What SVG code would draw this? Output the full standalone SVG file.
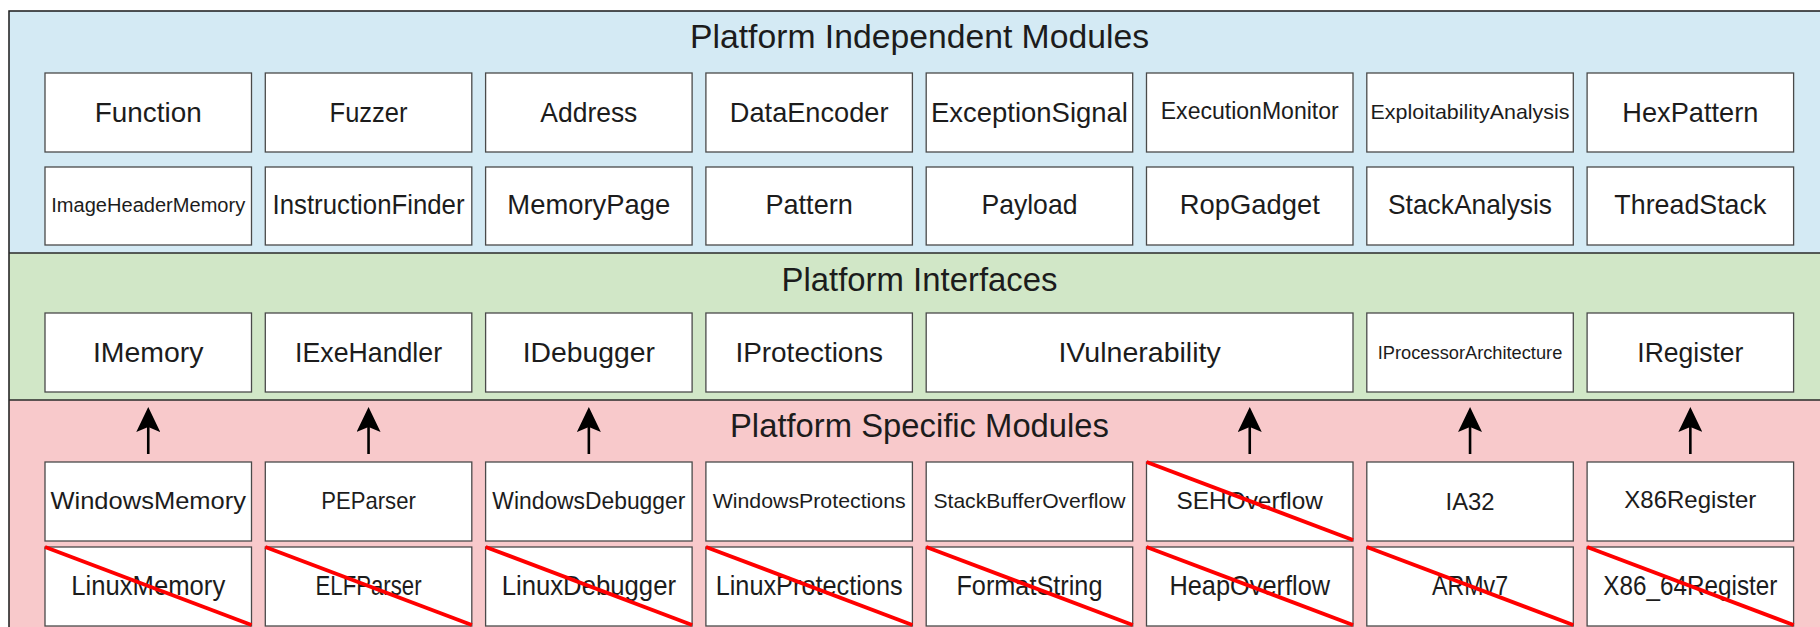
<svg xmlns="http://www.w3.org/2000/svg" width="1820" height="627" viewBox="0 0 1820 627">
  <defs>
    <style>
      .box { fill: #ffffff; stroke: #4a4a4a; stroke-width: 1.3; }
      .lbl { font-family: "Liberation Sans", Arial, sans-serif; fill: #1c1c1c; text-anchor: middle; }
      .title { font-size: 33px; }
      .s28 { font-size: 28px; }
      .s24 { font-size: 24px; }
      .s23 { font-size: 23px; }
      .s21 { font-size: 21px; }
      .s20 { font-size: 20px; }
      .s18 { font-size: 18px; }
      .strike { stroke: #ff0000; stroke-width: 4; fill: none; }
      .sep { stroke: #2a2a2a; stroke-width: 1.5; fill: none; }
      .arrow { stroke: #000000; stroke-width: 2.6; fill: none; marker-end: url(#head); }
    </style>
    <marker id="head" markerUnits="userSpaceOnUse" viewBox="0 0 25 24" markerWidth="25" markerHeight="24" refX="5" refY="12" orient="auto">
      <path d="M0,0 L25,12 L0,24 L5,12 Z" fill="#000000"/>
    </marker>
  </defs>

  <!-- layer bands -->
  <g id="bands">
    <rect x="9" y="11" width="1830" height="242" fill="#d4eaf4"/>
    <rect x="9" y="253" width="1830" height="147" fill="#d1e7c7"/>
    <rect x="9" y="400" width="1830" height="240" fill="#f8c9cb"/>
    <rect x="9" y="11" width="1830" height="640" fill="none" stroke="#1a1a1a" stroke-width="1.5"/>
    <line class="sep" x1="9" y1="253" x2="1839" y2="253"/>
    <line class="sep" x1="9" y1="400" x2="1839" y2="400"/>
    <text class="lbl title" x="919.5" y="48.3" textLength="459" lengthAdjust="spacingAndGlyphs">Platform Independent Modules</text>
    <text class="lbl title" x="919.5" y="290.7" textLength="276" lengthAdjust="spacingAndGlyphs">Platform Interfaces</text>
    <text class="lbl title" x="919.5" y="437.3" textLength="379" lengthAdjust="spacingAndGlyphs">Platform Specific Modules</text>
  </g>

  <!-- platform independent modules, row 1 -->
  <g id="function"><rect class="box" x="45" y="73" width="206.5" height="79"/><text class="lbl s28" x="148.25" y="121.7" textLength="107" lengthAdjust="spacingAndGlyphs">Function</text></g>
  <g id="fuzzer"><rect class="box" x="265.3" y="73" width="206.5" height="79"/><text class="lbl s28" x="368.55" y="121.7" textLength="78" lengthAdjust="spacingAndGlyphs">Fuzzer</text></g>
  <g id="address"><rect class="box" x="485.6" y="73" width="206.5" height="79"/><text class="lbl s28" x="588.85" y="121.7" textLength="97" lengthAdjust="spacingAndGlyphs">Address</text></g>
  <g id="dataencoder"><rect class="box" x="705.9" y="73" width="206.5" height="79"/><text class="lbl s28" x="809.15" y="121.7" textLength="158.6" lengthAdjust="spacingAndGlyphs">DataEncoder</text></g>
  <g id="exceptionsignal"><rect class="box" x="926.2" y="73" width="206.5" height="79"/><text class="lbl s28" x="1029.45" y="121.7" textLength="197" lengthAdjust="spacingAndGlyphs">ExceptionSignal</text></g>
  <g id="executionmonitor"><rect class="box" x="1146.5" y="73" width="206.5" height="79"/><text class="lbl s23" x="1249.75" y="118.6" textLength="178" lengthAdjust="spacingAndGlyphs">ExecutionMonitor</text></g>
  <g id="exploitabilityanalysis"><rect class="box" x="1366.8" y="73" width="206.5" height="79"/><text class="lbl s21" x="1470.05" y="118.5" textLength="199" lengthAdjust="spacingAndGlyphs">ExploitabilityAnalysis</text></g>
  <g id="hexpattern"><rect class="box" x="1587.1" y="73" width="206.5" height="79"/><text class="lbl s28" x="1690.35" y="121.7" textLength="136" lengthAdjust="spacingAndGlyphs">HexPattern</text></g>

  <!-- platform independent modules, row 2 -->
  <g id="imageheadermemory"><rect class="box" x="45" y="167" width="206.5" height="78"/><text class="lbl s20" x="148.25" y="212.3" textLength="194" lengthAdjust="spacingAndGlyphs">ImageHeaderMemory</text></g>
  <g id="instructionfinder"><rect class="box" x="265.3" y="167" width="206.5" height="78"/><text class="lbl s28" x="368.55" y="214" textLength="192" lengthAdjust="spacingAndGlyphs">InstructionFinder</text></g>
  <g id="memorypage"><rect class="box" x="485.6" y="167" width="206.5" height="78"/><text class="lbl s28" x="588.85" y="214" textLength="163" lengthAdjust="spacingAndGlyphs">MemoryPage</text></g>
  <g id="pattern"><rect class="box" x="705.9" y="167" width="206.5" height="78"/><text class="lbl s28" x="809.15" y="214" textLength="87.4" lengthAdjust="spacingAndGlyphs">Pattern</text></g>
  <g id="payload"><rect class="box" x="926.2" y="167" width="206.5" height="78"/><text class="lbl s28" x="1029.45" y="214" textLength="96" lengthAdjust="spacingAndGlyphs">Payload</text></g>
  <g id="ropgadget"><rect class="box" x="1146.5" y="167" width="206.5" height="78"/><text class="lbl s28" x="1249.75" y="214" textLength="140" lengthAdjust="spacingAndGlyphs">RopGadget</text></g>
  <g id="stackanalysis"><rect class="box" x="1366.8" y="167" width="206.5" height="78"/><text class="lbl s28" x="1470.05" y="214" textLength="164" lengthAdjust="spacingAndGlyphs">StackAnalysis</text></g>
  <g id="threadstack"><rect class="box" x="1587.1" y="167" width="206.5" height="78"/><text class="lbl s28" x="1690.35" y="214" textLength="152" lengthAdjust="spacingAndGlyphs">ThreadStack</text></g>

  <!-- platform interfaces -->
  <g id="imemory"><rect class="box" x="45" y="313" width="206.5" height="79"/><text class="lbl s28" x="148.25" y="361.7" textLength="110.6" lengthAdjust="spacingAndGlyphs">IMemory</text></g>
  <g id="iexehandler"><rect class="box" x="265.3" y="313" width="206.5" height="79"/><text class="lbl s28" x="368.55" y="361.7" textLength="147" lengthAdjust="spacingAndGlyphs">IExeHandler</text></g>
  <g id="idebugger"><rect class="box" x="485.6" y="313" width="206.5" height="79"/><text class="lbl s28" x="588.85" y="361.7" textLength="132.3" lengthAdjust="spacingAndGlyphs">IDebugger</text></g>
  <g id="iprotections"><rect class="box" x="705.9" y="313" width="206.5" height="79"/><text class="lbl s28" x="809.15" y="361.7" textLength="147.5" lengthAdjust="spacingAndGlyphs">IProtections</text></g>
  <g id="ivulnerability"><rect class="box" x="926.2" y="313" width="426.8" height="79"/><text class="lbl s28" x="1139.6" y="361.7" textLength="162.3" lengthAdjust="spacingAndGlyphs">IVulnerability</text></g>
  <g id="iprocessorarchitecture"><rect class="box" x="1366.8" y="313" width="206.5" height="79"/><text class="lbl s18" x="1470.05" y="359.3" textLength="184.5" lengthAdjust="spacingAndGlyphs">IProcessorArchitecture</text></g>
  <g id="iregister"><rect class="box" x="1587.1" y="313" width="206.5" height="79"/><text class="lbl s28" x="1690.35" y="361.7" textLength="106" lengthAdjust="spacingAndGlyphs">IRegister</text></g>

  <!-- platform specific modules, windows / x86 row -->
  <g id="windowsmemory"><rect class="box" x="45" y="462" width="206.5" height="79"/><text class="lbl s24" x="148.25" y="509" textLength="195.6" lengthAdjust="spacingAndGlyphs">WindowsMemory</text></g>
  <g id="peparser"><rect class="box" x="265.3" y="462" width="206.5" height="79"/><text class="lbl s24" x="368.55" y="509" textLength="94.5" lengthAdjust="spacingAndGlyphs">PEParser</text></g>
  <g id="windowsdebugger"><rect class="box" x="485.6" y="462" width="206.5" height="79"/><text class="lbl s23" x="588.85" y="509" textLength="193" lengthAdjust="spacingAndGlyphs">WindowsDebugger</text></g>
  <g id="windowsprotections"><rect class="box" x="705.9" y="462" width="206.5" height="79"/><text class="lbl s21" x="809.15" y="508.3" textLength="193" lengthAdjust="spacingAndGlyphs">WindowsProtections</text></g>
  <g id="stackbufferoverflow"><rect class="box" x="926.2" y="462" width="206.5" height="79"/><text class="lbl s21" x="1029.45" y="508.3" textLength="192" lengthAdjust="spacingAndGlyphs">StackBufferOverflow</text></g>
  <g id="sehoverflow"><rect class="box" x="1146.5" y="462" width="206.5" height="79"/><text class="lbl s24" x="1249.75" y="509" textLength="146.3" lengthAdjust="spacingAndGlyphs">SEHOverflow</text><line class="strike" x1="1146.5" y1="462" x2="1353" y2="540"/></g>
  <g id="ia32"><rect class="box" x="1366.8" y="462" width="206.5" height="79"/><text class="lbl s24" x="1470.05" y="509.5" textLength="49" lengthAdjust="spacingAndGlyphs">IA32</text></g>
  <g id="x86register"><rect class="box" x="1587.1" y="462" width="206.5" height="79"/><text class="lbl s24" x="1690.35" y="508" textLength="132" lengthAdjust="spacingAndGlyphs">X86Register</text></g>

  <!-- platform specific modules, linux / other-arch row (struck out) -->
  <g id="linuxmemory"><rect class="box" x="45" y="547" width="206.5" height="79"/><text class="lbl s28" x="148.25" y="595" textLength="154" lengthAdjust="spacingAndGlyphs">LinuxMemory</text><line class="strike" x1="45" y1="547" x2="251.5" y2="625"/></g>
  <g id="elfparser"><rect class="box" x="265.3" y="547" width="206.5" height="79"/><text class="lbl s28" x="368.55" y="595" textLength="106" lengthAdjust="spacingAndGlyphs">ELFParser</text><line class="strike" x1="265.3" y1="547" x2="471.8" y2="625"/></g>
  <g id="linuxdebugger"><rect class="box" x="485.6" y="547" width="206.5" height="79"/><text class="lbl s28" x="588.85" y="595" textLength="174.3" lengthAdjust="spacingAndGlyphs">LinuxDebugger</text><line class="strike" x1="485.6" y1="547" x2="692.1" y2="625"/></g>
  <g id="linuxprotections"><rect class="box" x="705.9" y="547" width="206.5" height="79"/><text class="lbl s28" x="809.15" y="595" textLength="187" lengthAdjust="spacingAndGlyphs">LinuxProtections</text><line class="strike" x1="705.9" y1="547" x2="912.4" y2="625"/></g>
  <g id="formatstring"><rect class="box" x="926.2" y="547" width="206.5" height="79"/><text class="lbl s28" x="1029.45" y="595" textLength="146" lengthAdjust="spacingAndGlyphs">FormatString</text><line class="strike" x1="926.2" y1="547" x2="1132.7" y2="625"/></g>
  <g id="heapoverflow"><rect class="box" x="1146.5" y="547" width="206.5" height="79"/><text class="lbl s28" x="1249.75" y="595" textLength="160.7" lengthAdjust="spacingAndGlyphs">HeapOverflow</text><line class="strike" x1="1146.5" y1="547" x2="1353" y2="625"/></g>
  <g id="armv7"><rect class="box" x="1366.8" y="547" width="206.5" height="79"/><text class="lbl s28" x="1470.05" y="595" textLength="76" lengthAdjust="spacingAndGlyphs">ARMv7</text><line class="strike" x1="1366.8" y1="547" x2="1573.3" y2="625"/></g>
  <g id="x86_64register"><rect class="box" x="1587.1" y="547" width="206.5" height="79"/><text class="lbl s28" x="1690.35" y="595" textLength="174" lengthAdjust="spacingAndGlyphs">X86_64Register</text><line class="strike" x1="1587.1" y1="547" x2="1793.6" y2="625"/></g>

  <!-- implementation arrows: specific module up to its interface -->
  <g id="connectors">
    <line class="arrow" x1="148.25" y1="454" x2="148.25" y2="427"/>
    <line class="arrow" x1="368.55" y1="454" x2="368.55" y2="427"/>
    <line class="arrow" x1="588.85" y1="454" x2="588.85" y2="427"/>
    <line class="arrow" x1="1249.75" y1="454" x2="1249.75" y2="427"/>
    <line class="arrow" x1="1470.05" y1="454" x2="1470.05" y2="427"/>
    <line class="arrow" x1="1690.35" y1="454" x2="1690.35" y2="427"/>
  </g>
</svg>
